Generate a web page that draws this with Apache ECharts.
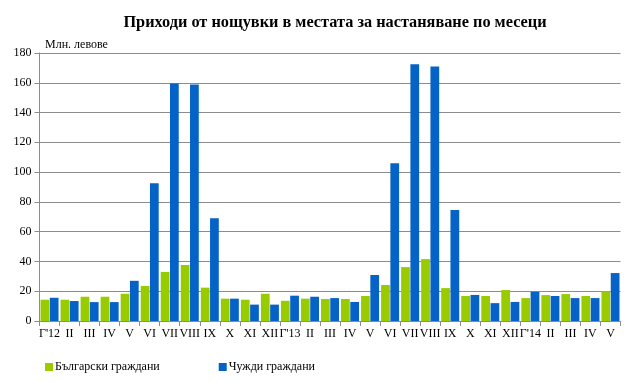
<!DOCTYPE html>
<html><head><meta charset="utf-8">
<script src="https://cdn.jsdelivr.net/npm/echarts@6/dist/echarts.min.js"></script>
<style>html,body{margin:0;padding:0;background:#fff}#c{width:631px;height:382px}</style>
</head><body><div id="c"></div>
<script>
const categories = ["Г'12","II","III","IV","V","VI","VII","VIII","IX","X","XI","XII",
  "Г'13","II","III","IV","V","VI","VII","VIII","IX","X","XI","XII",
  "Г'14","II","III","IV","V"];
const bulgarian = [14.3,14.3,16.3,16.3,18.3,23.5,33,37.6,22.4,15,14.3,18.3,
  13.6,15,14.8,14.8,16.8,24.2,36.2,41.6,22.1,16.8,16.8,20.8,
  15.4,17.4,18.1,16.8,20];
const foreign = [15.6,13.4,12.7,12.7,27,92.6,159.5,158.8,69,15,11,11,
  17,16.3,15.4,12.8,30.9,106,172.5,171,74.5,17.5,12,12.8,
  19.6,16.8,15.4,15.4,32.2];
const yTicks = [0,20,40,60,80,100,120,140,160,180];
const seriesNames = ["Български граждани","Чужди граждани"];
const font = "'Liberation Serif','Times New Roman',serif";
const chart = echarts.init(document.getElementById('c'), null, {renderer:'canvas'});
chart.setOption({
  animation:false,
  textStyle:{fontFamily:font},
  title:[{text:"Приходи от нощувки в местата за настаняване по месеци",left:330,top:10,textAlign:'center',
    textStyle:{fontFamily:font,fontSize:16.3,fontWeight:'bold',color:'#000'}},
    {text:"Млн. левове",left:40,top:34,textStyle:{fontFamily:font,fontSize:12,fontWeight:'normal',color:'#000'}}],
  legend:{left:40,top:356,itemWidth:8,itemHeight:8,itemGap:59,icon:'rect',
    textStyle:{fontFamily:font,fontSize:12,color:'#000',padding:[0,0,0,-3]},data:seriesNames},
  grid:{left:39.5,right:10.5,top:53,bottom:61,containLabel:false},
  xAxis:{type:'category',data:categories,
    axisLine:{lineStyle:{color:'#8c8c8c',width:1}},
    axisTick:{show:true,alignWithLabel:false,length:5,lineStyle:{color:'#8c8c8c'}},
    axisLabel:{interval:0,hideOverlap:false,color:'#000',fontFamily:font,fontSize:12,margin:7}},
  yAxis:{type:'value',min:yTicks[0],max:yTicks[yTicks.length-1],interval:20,
    axisLine:{show:true,lineStyle:{color:'#8c8c8c'}},
    axisTick:{show:true,length:5,lineStyle:{color:'#8c8c8c'}},
    splitLine:{lineStyle:{color:'#8c8c8c',width:1}},
    axisLabel:{color:'#000',fontFamily:font,fontSize:12,margin:8}},
  series:[
    {name:seriesNames[0],type:'bar',data:bulgarian,itemStyle:{color:'#99cc00'},barGap:'6%',barCategoryGap:'10%'},
    {name:seriesNames[1],type:'bar',data:foreign,itemStyle:{color:'#0563c8'},barGap:'6%',barCategoryGap:'10%'}
  ]
});
</script></body></html>
